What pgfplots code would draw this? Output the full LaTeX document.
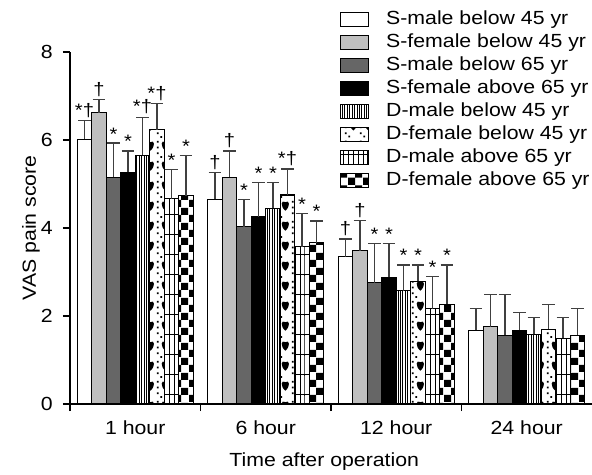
\documentclass[border=0pt]{standalone}
\usepackage{fontspec}
\setmainfont{Liberation Sans}[FakeStretch=1.12]
\usepackage{pgfplots}
\usepackage{pgfplotstable}
\pgfplotsset{compat=1.18}
\usetikzlibrary{patterns}

\definecolor{lgray}{gray}{0.75}
\definecolor{dgray}{gray}{0.40}
\definecolor{egray}{gray}{0.25}

\pgfdeclarepatternformonly{vstripes}{\pgfpoint{-0.1bp}{-0.1bp}}{\pgfpoint{2.52bp}{2.52bp}}{\pgfpoint{2.42bp}{2.42bp}}{%
  \pgfsetlinewidth{0.9bp}%
  \pgfpathmoveto{\pgfpoint{1.21bp}{-0.1bp}}\pgfpathlineto{\pgfpoint{1.21bp}{2.52bp}}\pgfusepath{stroke}}
\pgfdeclarepatternformonly{wgrid}{\pgfpoint{-0.6bp}{-0.6bp}}{\pgfpoint{5.44bp}{20.6bp}}{\pgfpoint{4.84bp}{20bp}}{%
  \pgfsetlinewidth{1bp}%
  \pgfpathmoveto{\pgfpoint{0bp}{-0.6bp}}\pgfpathlineto{\pgfpoint{0bp}{20.6bp}}%
  \pgfpathmoveto{\pgfpoint{-0.6bp}{0bp}}\pgfpathlineto{\pgfpoint{5.44bp}{0bp}}\pgfusepath{stroke}}
\pgfdeclarepatternformonly{checker}{\pgfpointorigin}{\pgfpoint{14.52bp}{14.52bp}}{\pgfpoint{14.52bp}{14.52bp}}{%
  \pgfpathrectangle{\pgfpointorigin}{\pgfpoint{7.26bp}{7.26bp}}%
  \pgfpathrectangle{\pgfpoint{7.26bp}{7.26bp}}{\pgfpoint{7.26bp}{7.26bp}}\pgfusepath{fill}}
\pgfdeclarepatternformonly{hearts}{\pgfpointorigin}{\pgfpoint{14.52bp}{20bp}}{\pgfpoint{14.52bp}{20bp}}{%
  \pgfpathmoveto{\pgfpoint{5.5bp}{4.5bp}}%
  \pgfpathcurveto{\pgfpoint{0bp}{9bp}}{\pgfpoint{1bp}{16.5bp}}{\pgfpoint{5.5bp}{13.5bp}}%
  \pgfpathcurveto{\pgfpoint{10bp}{16.5bp}}{\pgfpoint{11bp}{9bp}}{\pgfpoint{5.5bp}{4.5bp}}%
  \pgfpathclose
  \pgfpathrectangle{\pgfpoint{12.2bp}{1bp}}{\pgfpoint{1.8bp}{1.8bp}}%
  \pgfpathrectangle{\pgfpoint{12.2bp}{7bp}}{\pgfpoint{1.8bp}{1.8bp}}%
  \pgfpathrectangle{\pgfpoint{12.2bp}{13bp}}{\pgfpoint{1.8bp}{1.8bp}}%
  \pgfpathrectangle{\pgfpoint{0.4bp}{18bp}}{\pgfpoint{1.8bp}{1.8bp}}%
  \pgfusepath{fill}}

\pgfplotstableread{
x y e lab
0 6.02 0.42 *†
1 4.65 0.61 †
2 3.35 0.40 †
3 1.68 0.49 {}
}\sA
\pgfplotstableread{
x y e lab
0 6.62 0.30 †
1 5.15 0.60 †
2 3.48 0.69 †
3 1.76 0.72 {}
}\sB
\pgfplotstableread{
x y e lab
0 5.15 0.78 *
1 4.03 0.62 *
2 2.76 0.89 *
3 1.56 0.92 {}
}\sC
\pgfplotstableread{
x y e lab
0 5.27 0.48 *
1 4.26 0.77 *
2 2.88 0.77 *
3 1.68 0.40 {}
}\sD
\pgfplotstableread{
x y e lab
0 5.65 0.87 *†
1 4.45 0.58 *
2 2.57 0.59 *
3 1.58 0.39 {}
}\dA
\pgfplotstableread{
x y e lab
0 6.23 0.60 *†
1 4.75 0.59 *†
2 2.79 0.37 *
3 1.70 0.57 {}
}\dB
\pgfplotstableread{
x y e lab
0 4.67 0.66 *
1 3.57 0.76 *
2 2.17 0.72 *
3 1.49 0.48 {}
}\dC
\pgfplotstableread{
x y e lab
0 4.73 0.91 *
1 3.67 0.49 *
2 2.27 0.89 *
3 1.56 0.61 {}
}\dD

\pgfplotsset{
  barstyle/.style={draw=black, line width=1.1bp,
    error bars/.cd, y dir=plus, y explicit,
    error bar style={line width=1.2bp, color=egray},
    error mark options={rotate=90, line width=1.2bp, color=egray, mark size=6.3bp},
    /pgfplots/.cd,
    legend image code/.code={\draw[##1, line width=1.1bp] (0bp,-7bp) rectangle (28bp,7bp); \path (45bp,0bp);},
    nodes near coords, point meta=explicit symbolic,
    visualization depends on={\thisrow{e} \as \err},
    nodes near coords style={font=\fontsize{18bp}{18bp}\selectfont, anchor=south, inner sep=0pt, yshift={\err*44.16+2.5}, text=black},
  }
}

\begin{document}
\begin{tikzpicture}
\begin{axis}[name=ax, scale only axis, width=522bp, height=352bp,
  font=\fontsize{19bp}{22bp}\selectfont,
  /pgf/number format/assume math mode=true,
  xmin=-0.5, xmax=3.5, ymin=0, ymax=8,
  ybar=0pt, bar width=0.1111,
  axis x line*=bottom, axis y line*=left,
  axis line style={line width=1.2bp, black},
  xtick={-0.5,0.5,1.5,2.5}, xticklabels={},
  extra x ticks={0,1,2,3},
  extra x tick labels={1 hour,6 hour,12 hour,24 hour},
  extra x tick style={major tick length=0pt, xticklabel style={inner sep=0pt, anchor=north, yshift=-17bp}},
  ytick={0,2,4,6,8},
  tick align=outside, major tick length=7bp,
  tick style={line width=1.2bp, black},
  yticklabel style={inner sep=0pt, xshift=-10bp},
  xlabel={Time after operation},
  ylabel={VAS pain score},
  every axis x label/.style={at={(axis description cs:0.487,0)}, anchor=center, yshift=-58bp},
  every axis y label/.style={at={(axis description cs:0,0.5)}, xshift=-39bp, rotate=90, anchor=center},
  legend cell align=left,
  legend style={at={(axis description cs:0.517,1.1264)}, anchor=north west, draw=none, fill=none,
    inner sep=0pt, row sep=0pt, column sep=0pt,
    nodes={inner sep=0pt, text height=17bp, text depth=6bp},
    font=\fontsize{19bp}{22bp}\selectfont},
]
\addplot[barstyle, fill=white] table[x=x, y=y, y error=e, meta=lab] {\sA};
\addlegendentry{S-male below 45 yr}
\addplot[barstyle, fill=lgray] table[x=x, y=y, y error=e, meta=lab] {\sB};
\addlegendentry{S-female below 45 yr}
\addplot[barstyle, fill=dgray] table[x=x, y=y, y error=e, meta=lab] {\sC};
\addlegendentry{S-male below 65 yr}
\addplot[barstyle, fill=black] table[x=x, y=y, y error=e, meta=lab] {\sD};
\addlegendentry{S-female above 65 yr}
\addplot[barstyle, pattern=vstripes] table[x=x, y=y, y error=e, meta=lab] {\dA};
\addlegendentry{D-male below 45 yr}
\addplot[barstyle, pattern=hearts] table[x=x, y=y, y error=e, meta=lab] {\dB};
\addlegendentry{D-female below 45 yr}
\addplot[barstyle, pattern=wgrid] table[x=x, y=y, y error=e, meta=lab] {\dC};
\addlegendentry{D-male above 65 yr}
\addplot[barstyle, pattern=checker] table[x=x, y=y, y error=e, meta=lab] {\dD};
\addlegendentry{D-female above 65 yr}
\end{axis}
\pgfresetboundingbox
\path[use as bounding box] ([shift={(-70bp,-71bp)}]ax.south west) rectangle ([shift={(522bp,404bp)}]ax.south west);
\end{tikzpicture}
\end{document}
